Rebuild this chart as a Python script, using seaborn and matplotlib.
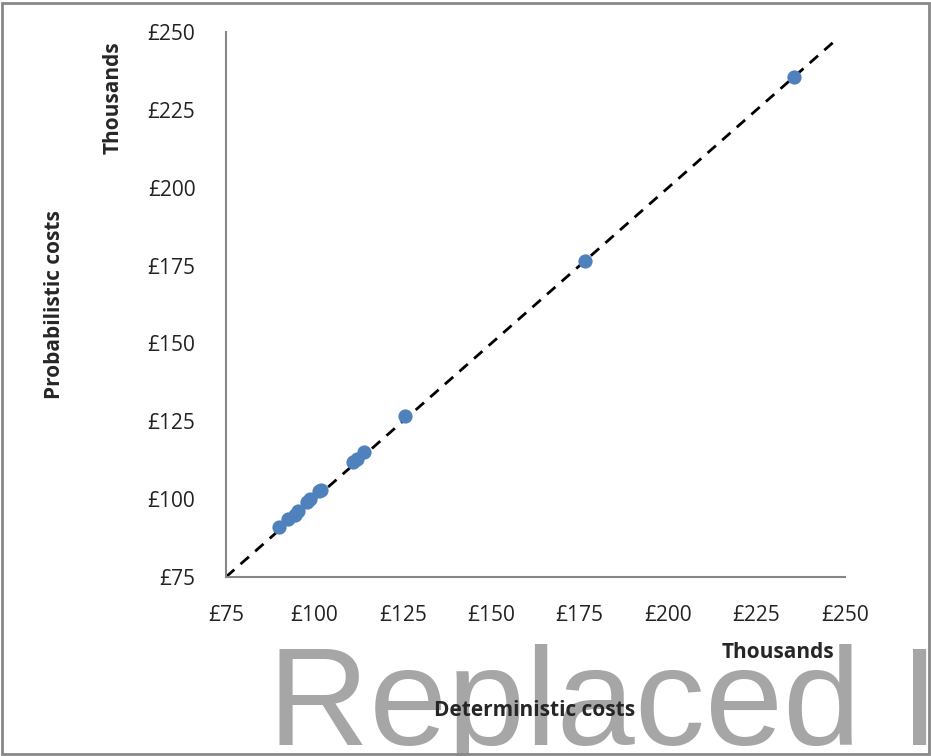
import matplotlib
matplotlib.use("Agg")
import matplotlib.pyplot as plt
import seaborn as sns
import pandas as pd
from matplotlib.patches import Rectangle

# datos (miles de libras)
deterministic = [90.0, 92.5, 94.5, 95.5, 97.9, 98.8, 101.3, 102.0, 111.0, 112.0, 114.0, 125.6, 176.5, 235.6]
probabilistic = [91.0, 93.5, 94.8, 96.2, 99.2, 100.0, 102.6, 103.0, 111.9, 112.9, 115.1, 126.7, 176.6, 235.5]
diag = [75, 248]
ticks = [75, 100, 125, 150, 175, 200, 225, 250]
tick_labels = ["£75", "£100", "£125", "£150", "£175", "£200", "£225", "£250"]

df = pd.DataFrame({"Deterministic": deterministic, "Probabilistic": probabilistic})

sns.set_style("white")
plt.rcParams['font.family'] = ['Open Sans', 'DejaVu Sans']

fig = plt.figure(figsize=(9.31, 7.56), dpi=100)
ax = fig.add_axes([0.2427, 0.2368, 0.6649, 0.7209])

# linea diagonal y = x
ax.plot(diag, diag, color="black", linestyle=(0, (4, 3)), linewidth=2, zorder=2)
sns.scatterplot(data=df, x="Deterministic", y="Probabilistic", ax=ax, color="#4F81BD",
                s=105, edgecolor="#4F81BD", linewidth=0, zorder=3)

ax.set_xlim(75, 250)
ax.set_ylim(75, 250)
ax.set_xticks(ticks)
ax.set_xticklabels(tick_labels)
ax.set_yticks(ticks)
ax.set_yticklabels(tick_labels)
ax.set_xlabel("")
ax.set_ylabel("")
ax.tick_params(axis="both", length=8, width=1.2, color="#868686", labelsize=15, labelcolor="#222222")
ax.tick_params(axis="y", pad=14)
ax.tick_params(axis="x", pad=12)
for s in ["top", "right"]:
    ax.spines[s].set_visible(False)
for s in ["left", "bottom"]:
    ax.spines[s].set_color("#868686")
    ax.spines[s].set_linewidth(1.5)

# texto de fondo
fig.text(268 / 931, 1 - 745 / 756, "Replaced I", fontsize=101, color="#a6a6a6",
         family="Liberation Sans", ha="left", va="baseline", zorder=0)

# titulos de ejes
fig.text(55 / 931, 1 - 305 / 756, "Probabilistic costs", rotation=90, fontsize=15,
         fontweight="bold", ha="center", va="center", zorder=5)
fig.text(113 / 931, 1 - 98 / 756, "Thousands", rotation=90, fontsize=15,
         fontweight="bold", ha="center", va="center", zorder=5)
fig.text(778 / 931, 1 - 652 / 756, "Thousands", fontsize=15,
         fontweight="bold", ha="center", va="center", zorder=5)
fig.text(535 / 931, 1 - 710 / 756, "Deterministic costs", fontsize=15,
         fontweight="bold", ha="center", va="center", zorder=5)

# borde del grafico
fig.patches.append(Rectangle((0.002, 0.002), 0.996, 0.994, transform=fig.transFigure,
                             fill=False, edgecolor="#888888", linewidth=2))

fig.savefig("out.png", dpi=100)
